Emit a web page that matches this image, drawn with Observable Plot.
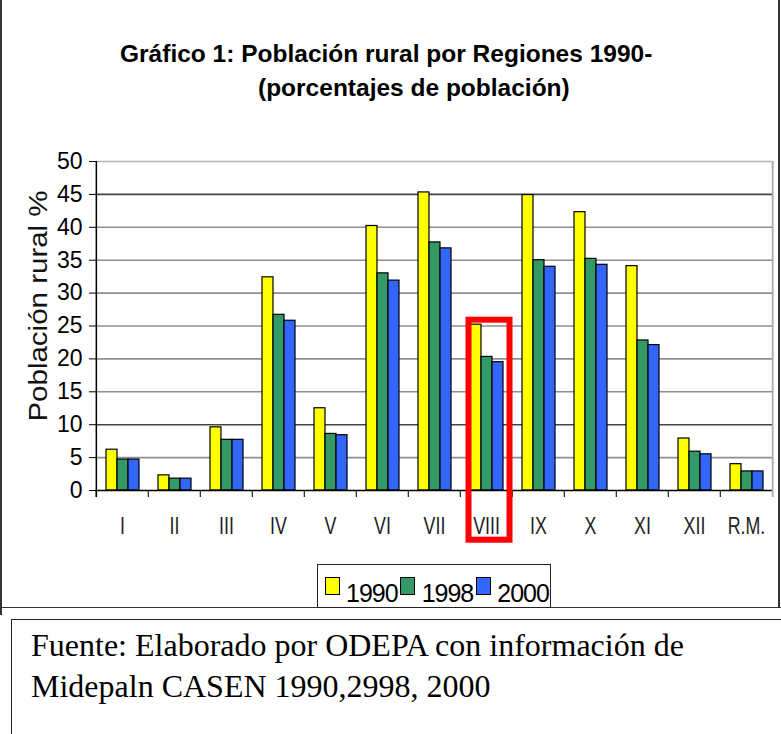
<!DOCTYPE html>
<html>
<head>
<meta charset="utf-8">
<script src="https://cdn.jsdelivr.net/npm/d3@7"></script>
<script src="https://cdn.jsdelivr.net/npm/@observablehq/plot@0.6"></script>
<style>
  html, body { margin: 0; padding: 0; background: #fff; }
  #wrap { position: relative; width: 781px; height: 734px; overflow: hidden; font-family: "Liberation Sans", Arial, sans-serif; color: #000; }
  #chart { position: absolute; left: 0; top: 0; }
  .title { position: absolute; font-weight: bold; font-size: 24.5px; line-height: 1; white-space: nowrap; }
  #ylabel { position: absolute; left: 38.3px; top: 306px; font-size: 25px; line-height: 1; white-space: nowrap;
            transform: translate(-50%, -50%) rotate(-90deg) scaleX(1.18); color: #111; }
  .fr { position: absolute; background: #333; }
  #legend { position: absolute; left: 317px; top: 564px; width: 234px; height: 44px; box-sizing: border-box;
            border: 1.5px solid #222; background: #fff; display: flex; align-items: flex-start; }
  .sw { width: 15px; height: 18px; box-sizing: border-box; border: 1px solid #000; margin-top: 12px; flex: none; }
  .lt { font-size: 25px; line-height: 25px; margin-top: 16.3px; letter-spacing: -1px; flex: none; }
  #caption { position: absolute; left: 11px; top: 619px; width: 800px; height: 200px; box-sizing: border-box;
             border: 1.5px solid #222; padding: 5.2px 0 0 19px; font-family: "Liberation Serif", "Times New Roman", serif;
             font-size: 32px; line-height: 41px; background: #fff; }
</style>
</head>
<body>
<div id="wrap"></div>
<script>
// ---- data ----
const regions = ["I", "II", "III", "IV", "V", "VI", "VII", "VIII", "IX", "X", "XI", "XII", "R.M."];
const years = ["1990", "1998", "2000"];
const colors = ["#ffff00", "#339966", "#3366ff"];
const v1990 = [6.2, 2.3, 9.6, 32.4, 12.5, 40.2, 45.3, 25.2, 44.9, 42.3, 34.1, 7.9, 4.0];
const v1998 = [4.7, 1.8, 7.7, 26.7, 8.6, 33.0, 37.7, 20.3, 35.0, 35.2, 22.8, 5.9, 2.9];
const v2000 = [4.7, 1.8, 7.7, 25.8, 8.4, 31.9, 36.8, 19.5, 34.0, 34.3, 22.1, 5.5, 2.9];
const yTicks = [0, 5, 10, 15, 20, 25, 30, 35, 40, 45, 50];
const darkGrid = [10, 45];
const lightGrid = [5, 15, 20, 25, 30, 35, 40];
const yMax = 50;
const highlightRegion = "VIII";
const titleLine1 = "Gráfico 1: Población rural por Regiones 1990-";
const titleLine2 = "(porcentajes de población)";
const yLabelText = "Población rural %";
const captionLines = ["Fuente: Elaborado por ODEPA con información de", "Midepaln CASEN 1990,2998, 2000"];

// ---- tables built from the arrays ----
const series = [v1990, v1998, v2000];
const rows = regions.flatMap((r, i) => years.map((y, j) => ({region: r, year: y, value: series[j][i]})));
const hiIdx = regions.indexOf(highlightRegion);
const highlight = [{region: highlightRegion, top: Math.max(...series.map(s => s[hiIdx]))}];

// ---- layout ----
const W = 781, H = 560, ML = 94, MR = 7, MT = 161, MB = 70;
const halfBand = (W - ML - MR) / regions.length / 2;

const wrap = document.getElementById("wrap");

const plot = Plot.plot({
  width: W, height: H,
  marginLeft: ML, marginRight: MR, marginTop: MT, marginBottom: MB,
  style: {fontFamily: "'Liberation Sans', Arial, sans-serif", background: "white", color: "#000", overflow: "visible"},
  fx: {domain: regions, padding: 0, label: null},
  x: {domain: years, paddingInner: 0, paddingOuter: 0.815, align: 0.55, axis: null},
  y: {domain: [0, yMax], label: null},
  color: {domain: years, range: colors},
  marks: [
    Plot.ruleY(lightGrid, {stroke: "#8f8f8f", strokeWidth: 1.6}),
    Plot.ruleY(darkGrid, {stroke: "#444", strokeWidth: 1.6}),
    Plot.ruleY([yMax], {stroke: "#b4b4b4", strokeWidth: 1.6}),
    Plot.barY(rows, {fx: "region", x: "year", y: "value", fill: "year", stroke: "#000", strokeWidth: 1.2, inset: 0}),
    Plot.ruleY([0], {stroke: "#000", strokeWidth: 1.5}),
    Plot.ruleX(regions, {fx: d => d, x: null, y1: 0, y2: 0, insetBottom: -7, dx: -halfBand, stroke: "#333", strokeWidth: 1.3}),
    Plot.ruleX([regions[0]], {fx: d => d, x: null, y1: yMax, y2: 0, insetBottom: -7, dx: -halfBand, stroke: "#000", strokeWidth: 1.5}),
    Plot.ruleX([regions[regions.length - 1]], {fx: d => d, x: null, y1: yMax, y2: 0, insetBottom: -7, dx: halfBand, stroke: "#aaa", strokeWidth: 1.8}),
    Plot.axisY({ticks: yTicks, tickSize: 7, tickPadding: 7, fontSize: 23, label: null}),
    Plot.axisFx({anchor: "bottom", tickSize: 0, tickPadding: 27, fontSize: 17.8, label: null, color: "#222"}),
    Plot.barY(highlight, {fx: "region", y1: 0, y2: "top", fill: "none", stroke: "#ff0000", strokeWidth: 6,
      insetLeft: 8.5, insetRight: 2.5, insetTop: -4.5, insetBottom: -49.7})
  ]
});
plot.id = "chart";
wrap.appendChild(plot);

// stretch the region labels vertically like the reference
d3.select(plot).selectAll('g[aria-label="fx-axis tick label"] text').each(function () {
  const t = this.getAttribute("transform") || "";
  this.setAttribute("transform", t + " scale(1,1.33)");
});

// ---- titles ----
const t1 = document.createElement("div");
t1.className = "title"; t1.style.left = "120px"; t1.style.top = "42px"; t1.textContent = titleLine1;
wrap.appendChild(t1);
const t2 = document.createElement("div");
t2.className = "title"; t2.style.left = "258px"; t2.style.top = "76.3px"; t2.textContent = titleLine2;
wrap.appendChild(t2);

const yl = document.createElement("div");
yl.id = "ylabel"; yl.textContent = yLabelText;
wrap.appendChild(yl);

// ---- outer frame ----
[[0, 0, 2, 615], [778, 0, 1.6, 607.5], [0, 606.5, 781, 1.5]].forEach(([l, t, w, h]) => {
  const d = document.createElement("div");
  d.className = "fr";
  Object.assign(d.style, {left: l + "px", top: t + "px", width: w + "px", height: h + "px"});
  wrap.appendChild(d);
});

// ---- legend ----
const lg = document.createElement("div");
lg.id = "legend";
years.forEach((y, i) => {
  const sw = document.createElement("div");
  sw.className = "sw"; sw.style.background = colors[i];
  sw.style.marginLeft = i === 0 ? "6.5px" : "2.5px";
  sw.style.marginRight = "6.5px";
  lg.appendChild(sw);
  const tx = document.createElement("div");
  tx.className = "lt"; tx.textContent = y;
  lg.appendChild(tx);
});
wrap.appendChild(lg);

// ---- caption ----
const cap = document.createElement("div");
cap.id = "caption";
cap.innerHTML = captionLines.join("<br>");
wrap.appendChild(cap);
</script>
</body>
</html>
